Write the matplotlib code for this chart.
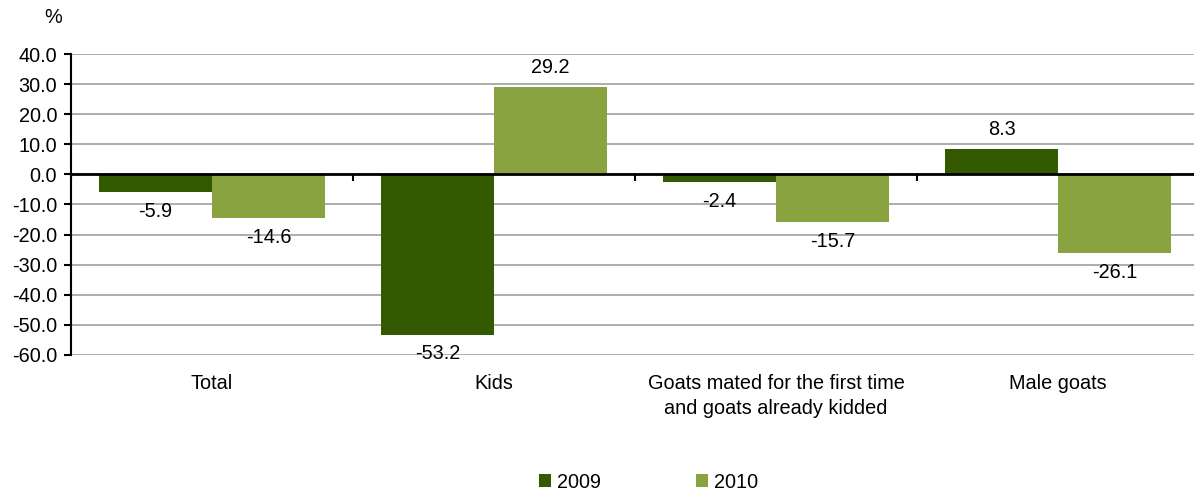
import numpy as np
import matplotlib.pyplot as plt

categories = ["Total", "Kids", "Goats mated for the first time\nand goats already kidded", "Male goats"]
years = ["2009", "2010"]
vals_2009 = [-5.9, -53.2, -2.4, 8.3]
vals_2010 = [-14.6, 29.2, -15.7, -26.1]
colors = ["#335a00", "#8aa341"]

plt.rcParams['font.family'] = ['Liberation Sans', 'DejaVu Sans']
fs = 14.3

fig = plt.figure(figsize=(11.94, 4.92), dpi=100)
ax = fig.add_axes([71/1194, 1-355/492, 1128/1194, 301/492])

x = np.arange(len(categories))
w = 0.4
series = [vals_2009, vals_2010]
for k, (vals, c, lab) in enumerate(zip(series, colors, years)):
  pos = x - w/2 + k*w
  ax.bar(pos, vals, width=w, color=c, label=lab, zorder=2)
  for px, v in zip(pos, vals):
    off = 14 if v > 0 else -14
    ax.annotate("%.1f" % v, (px, v), xytext=(0, off), textcoords="offset points",
                ha="center", va="center", fontsize=fs)

ax.set_xlim(-0.5, len(categories) - 0.5)
ax.set_ylim(-60, 40)
ax.set_yticks(np.arange(-60, 41, 10))
ax.set_yticklabels(["%.1f" % t for t in np.arange(-60, 41, 10)], fontsize=fs)
ax.yaxis.grid(True, color="#a0a0a0", lw=1.2, zorder=0)
ax.set_axisbelow(True)

for s in ["top", "right"]:
  ax.spines[s].set_visible(False)
ax.spines["left"].set_linewidth(1.5)
ax.spines["bottom"].set_position(("data", 0))
ax.spines["bottom"].set_linewidth(2)
ax.spines["bottom"].set_zorder(3)
ax.set_xticks(np.arange(-0.5, len(categories) + 0.5, 1))
ax.set_xticklabels([])
ax.tick_params(axis="x", length=5, width=1.5, direction="out")
ax.tick_params(axis="y", length=5, width=1.5, direction="out", pad=5)

for i, cat in enumerate(categories):
  ax.annotate(cat, (i, 0), xycoords=("data", "axes fraction"), xytext=(0, -14),
              textcoords="offset points", ha="center", va="top", fontsize=fs,
              linespacing=1.38)

ax.annotate("%", (0, 1), xycoords="axes fraction", xytext=(-13, 26),
            textcoords="offset points", ha="center", va="center", fontsize=fs)

fig.legend(loc="center", bbox_to_anchor=(0.543, 0.02), ncol=2, frameon=False,
           handlelength=0.6, handleheight=0.6, handletextpad=0.3, columnspacing=4.8,
           fontsize=fs)

fig.savefig("out.png", dpi=100)
